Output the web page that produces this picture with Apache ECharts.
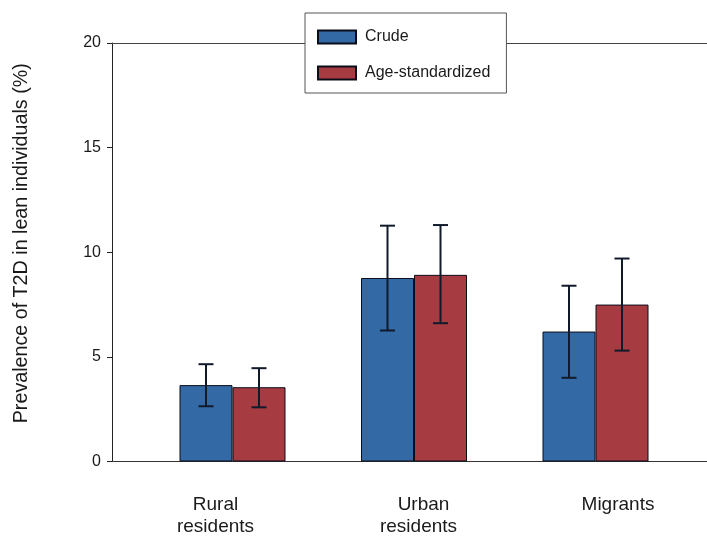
<!DOCTYPE html>
<html><head><meta charset="utf-8">
<script src="https://cdn.jsdelivr.net/npm/echarts@6/dist/echarts.min.js"></script>
<style>html,body{margin:0;padding:0;background:#fff}#c{width:707px;height:536px}</style>
</head><body><div id="c"></div>
<script>
const categories = ['Rural residents', 'Urban residents', 'Migrants'];
const crude = [3.65, 8.77, 6.21];
const crudeLow = [2.64, 6.26, 4.00];
const crudeHigh = [4.65, 11.27, 8.40];
const ageStd = [3.55, 8.92, 7.50];
const ageLow = [2.59, 6.61, 5.30];
const ageHigh = [4.46, 11.30, 9.70];
const yTicks = [0, 5, 10, 15, 20];

const FONT = 'Liberation Sans, Arial, sans-serif';
const BAR_W = 53;
// label line style keys (horizontal nudges of each label line)
const labelStyleKeys = {
  'Rural residents': ['l34', 'l34'],
  'Urban residents': ['r19', 'r9'],
  'Migrants': ['r45']
};
function lbl(pad) {
  return {fontSize: 19, lineHeight: 22, color: '#1a1a1a', padding: pad, fontFamily: FONT};
}

function errSeries(low, high, sign) {
  return {
    type: 'custom', xAxisIndex: 0, yAxisIndex: 0, z: 5, silent: true,
    data: low.map((l, i) => [i, l, high[i]]),
    renderItem: function (params, api) {
      const lo = api.coord([api.value(0), api.value(1)]);
      const hi = api.coord([api.value(0), api.value(2)]);
      const x = lo[0] + sign * BAR_W / 2;
      const cap = 7.5;
      const st = {stroke: '#111a2b', lineWidth: 2};
      return {type: 'group', children: [
        {type: 'line', shape: {x1: x, y1: lo[1], x2: x, y2: hi[1]}, style: st},
        {type: 'line', shape: {x1: x - cap, y1: lo[1], x2: x + cap, y2: lo[1]}, style: st},
        {type: 'line', shape: {x1: x - cap, y1: hi[1], x2: x + cap, y2: hi[1]}, style: st}
      ]};
    }
  };
}

const chart = echarts.init(document.getElementById('c'));
chart.setOption({
  animation: false,
  backgroundColor: '#fff',
  textStyle: {fontFamily: FONT},
  grid: [
    {left: 141.75, right: 20.75, top: 43, bottom: 74.5},
    {left: 112, right: 0, top: 43, bottom: 74.5}
  ],
  legend: {
    data: ['Crude', 'Age-standardized'],
    orient: 'vertical', left: 305, top: 13,
    itemWidth: 38, itemHeight: 13, itemGap: 20,
    padding: [16, 16, 12, 12],
    backgroundColor: '#fff', borderColor: '#555', borderWidth: 1,
    icon: 'rect',
    textStyle: {fontSize: 16, color: '#1a1a1a', padding: [0, 0, 0, 4], fontFamily: FONT}
  },
  xAxis: [
    {type: 'category', gridIndex: 0, data: categories,
      axisLine: {show: false}, axisTick: {show: false},
      axisLabel: {
        margin: 32, interval: 0,
        formatter: function (v) {
          const keys = labelStyleKeys[v];
          return v.split(' ').map((w, i) => '{' + keys[i] + '|' + w + '}').join('\n');
        },
        rich: {
          l34: lbl([0, 34, 0, 0]),
          r19: lbl([0, 0, 0, 19]),
          r9: lbl([0, 0, 0, 9]),
          r45: lbl([0, 0, 0, 45])
        }
      }
    },
    {type: 'value', gridIndex: 1, min: 0, max: 1, position: 'bottom',
      axisLine: {show: true, onZero: false, lineStyle: {color: '#333', width: 1}},
      axisTick: {show: false}, axisLabel: {show: false}, splitLine: {show: false}},
    {type: 'value', gridIndex: 1, min: 0, max: 1, position: 'top',
      axisLine: {show: true, onZero: false, lineStyle: {color: '#444', width: 1}},
      axisTick: {show: false}, axisLabel: {show: false}, splitLine: {show: false}}
  ],
  yAxis: [
    {type: 'value', gridIndex: 0, min: 0, max: 20, show: false, splitLine: {show: false}},
    {type: 'value', gridIndex: 1, min: 0, max: 20, interval: 5,
      name: 'Prevalence of T2D in lean individuals (%)',
      nameLocation: 'middle', nameGap: 80, nameRotate: 90,
      nameTextStyle: {fontSize: 19.7, color: '#1a1a1a', padding: [0, 0, 0, 18], fontFamily: FONT},
      axisLine: {show: true, lineStyle: {color: '#222', width: 1}},
      axisTick: {show: true, inside: false, length: 5, lineStyle: {color: '#222'}},
      axisLabel: {fontSize: 16, color: '#1a1a1a', margin: 11,
        formatter: function (v) { return yTicks.indexOf(v) >= 0 ? String(v) : ''; }},
      splitLine: {show: false}}
  ],
  series: [
    {name: 'Crude', type: 'bar', xAxisIndex: 0, yAxisIndex: 0, data: crude,
      barWidth: BAR_W, barGap: '0%',
      itemStyle: {color: '#3369a4', borderColor: '#0d0d1a', borderWidth: 1}},
    {name: 'Age-standardized', type: 'bar', xAxisIndex: 0, yAxisIndex: 0, data: ageStd,
      barWidth: BAR_W, barGap: '0%',
      itemStyle: {color: '#a63b42', borderColor: '#0d0d1a', borderWidth: 1}},
    errSeries(crudeLow, crudeHigh, -1),
    errSeries(ageLow, ageHigh, 1)
  ]
});
</script></body></html>
